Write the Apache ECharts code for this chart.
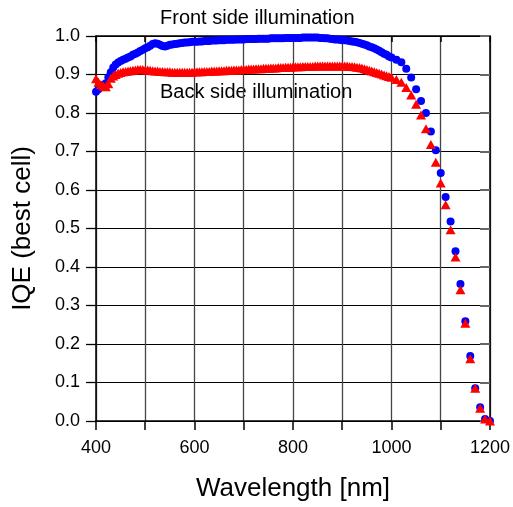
<!DOCTYPE html>
<html>
<head>
<meta charset="utf-8">
<script src="https://cdn.jsdelivr.net/npm/echarts@6/dist/echarts.min.js"></script>
<style>
html,body{margin:0;padding:0;background:#fff;}
#c{width:513px;height:507px;}
</style>
</head>
<body>
<div id="c"></div>
<script>
var wavelengths = [
400,405,410,415,420,425,430,435,440,445,450,455,460,465,470,475,480,485,490,495,
500,505,510,515,520,525,530,535,540,545,550,555,560,565,570,575,580,585,590,595,
600,605,610,615,620,625,630,635,640,645,650,655,660,665,670,675,680,685,690,695,
700,705,710,715,720,725,730,735,740,745,750,755,760,765,770,775,780,785,790,795,
800,805,810,815,820,825,830,835,840,845,850,855,860,865,870,875,880,885,890,895,
900,905,910,915,920,925,930,935,940,945,950,955,960,965,970,975,980,985,990,995,
1000,1010,1020,1030,1040,1050,1060,1070,1080,1090,1100,1110,1120,1130,1140,1150,
1160,1170,1180,1190,1200
];
var frontIQE = [
0.855,0.862,0.870,0.873,0.877,0.893,0.906,0.918,0.926,0.931,0.935,0.938,0.941,0.944,0.947,0.951,0.954,0.957,0.961,0.964,
0.968,0.971,0.975,0.979,0.981,0.980,0.977,0.974,0.973,0.975,0.977,0.978,0.979,0.980,0.981,0.982,0.983,0.983,0.984,0.985,
0.985,0.985,0.986,0.986,0.987,0.987,0.987,0.988,0.988,0.988,0.989,0.989,0.989,0.990,0.990,0.990,0.990,0.991,0.991,0.991,
0.991,0.992,0.992,0.992,0.992,0.992,0.993,0.993,0.993,0.993,0.993,0.994,0.994,0.994,0.994,0.994,0.994,0.995,0.995,0.995,
0.995,0.995,0.995,0.995,0.996,0.996,0.996,0.996,0.996,0.996,0.996,0.995,0.995,0.994,0.994,0.993,0.992,0.991,0.991,0.990,
0.989,0.989,0.988,0.987,0.986,0.985,0.984,0.982,0.980,0.978,0.976,0.973,0.971,0.968,0.965,0.962,0.958,0.954,0.951,0.947,
0.944,0.938,0.932,0.915,0.892,0.862,0.831,0.800,0.752,0.703,0.644,0.582,0.518,0.441,0.356,0.259,
0.169,0.085,0.036,0.005,0.000
];
var backIQE = [
0.889,0.880,0.874,0.870,0.868,0.876,0.890,0.896,0.900,0.903,0.905,0.907,0.908,0.909,0.910,0.911,0.912,0.913,0.913,0.913,
0.912,0.912,0.911,0.910,0.909,0.909,0.908,0.908,0.907,0.907,0.907,0.906,0.906,0.906,0.906,0.906,0.906,0.906,0.906,0.906,
0.907,0.907,0.907,0.907,0.908,0.908,0.908,0.909,0.909,0.909,0.910,0.910,0.910,0.911,0.911,0.911,0.912,0.912,0.912,0.913,
0.913,0.913,0.914,0.914,0.914,0.915,0.915,0.915,0.916,0.916,0.916,0.917,0.917,0.917,0.918,0.918,0.918,0.919,0.919,0.919,
0.920,0.920,0.920,0.920,0.921,0.921,0.921,0.921,0.921,0.922,0.922,0.922,0.922,0.922,0.922,0.922,0.922,0.922,0.922,0.922,
0.922,0.922,0.922,0.921,0.921,0.920,0.919,0.918,0.917,0.915,0.913,0.911,0.909,0.907,0.905,0.903,0.901,0.899,0.897,0.895,
0.893,0.887,0.880,0.866,0.847,0.823,0.795,0.759,0.718,0.672,0.618,0.562,0.497,0.426,0.341,0.254,
0.162,0.085,0.033,0.005,0.000
];
var xTickLabels = ['400','600','800','1000','1200'];
var yTickLabels = ['0.0','0.1','0.2','0.3','0.4','0.5','0.6','0.7','0.8','0.9','1.0'];
var seriesNames = ['Front side illumination','Back side illumination'];
var axisNames = ['Wavelength [nm]','IQE (best cell)'];

function pairs(xs, ys){ return xs.map(function(x,i){ return [x, ys[i]]; }); }

var FONT = '"Liberation Sans", Arial, sans-serif';
var chart = echarts.init(document.getElementById('c'), null, {renderer:'canvas'});
chart.setOption({
  animation:false,
  backgroundColor:'#fff',
  grid: {left:96, right:23, top:36, bottom:81, containLabel:false},
  xAxis: [{
    type:'value', min:400, max:1200, interval:100, position:'bottom',
    name: axisNames[0], nameLocation:'middle', nameGap:55,
    nameTextStyle:{fontFamily:FONT, fontSize:26, color:'#000'},
    axisLine:{show:true, onZero:false, lineStyle:{color:'#000', width:1.5}},
    axisTick:{show:true, inside:false, length:9, lineStyle:{color:'#000', width:1.5}},
    axisLabel:{show:true, margin:18, fontFamily:FONT, fontSize:18, color:'#000',
      formatter:function(v){ var s=String(v); return xTickLabels.indexOf(s)>=0 ? s : ''; }},
    splitLine:{show:true, lineStyle:{color:'#444', width:1.3}}
  },{
    type:'value', min:400, max:1200, interval:100, position:'top',
    axisLine:{show:true, onZero:false, lineStyle:{color:'#000', width:1.5}},
    axisTick:{show:true, inside:true, length:6, lineStyle:{color:'#000', width:1.5}},
    axisLabel:{show:false}, splitLine:{show:false}
  }],
  yAxis: [{
    type:'value', min:0, max:1, interval:0.1, position:'left',
    name: axisNames[1], nameLocation:'middle', nameGap:60,
    nameTextStyle:{fontFamily:FONT, fontSize:26, color:'#000'},
    axisLine:{show:true, onZero:false, lineStyle:{color:'#000', width:1.5}},
    axisTick:{show:true, inside:false, length:10, lineStyle:{color:'#000', width:1.3}},
    axisLabel:{show:true, margin:16, fontFamily:FONT, fontSize:18, color:'#000',
      formatter:function(v){ return yTickLabels[Math.round(v*10)]; }},
    splitLine:{show:true, lineStyle:{color:'#000', width:1}}
  },{
    type:'value', min:0, max:1, interval:0.1, position:'right',
    axisLine:{show:true, onZero:false, lineStyle:{color:'#000', width:1.5}},
    axisTick:{show:true, inside:true, length:10, lineStyle:{color:'#666', width:2}},
    axisLabel:{show:false}, splitLine:{show:false}
  }],
  series: [{
    name: seriesNames[0], type:'scatter', xAxisIndex:0, yAxisIndex:0,
    data: pairs(wavelengths, frontIQE),
    symbol:'circle', symbolSize:8,
    itemStyle:{color:'#0000ff', opacity:1}
  },{
    name: seriesNames[1], type:'scatter', xAxisIndex:0, yAxisIndex:0,
    data: pairs(wavelengths, backIQE),
    symbol:'triangle', symbolSize:[10,9],
    itemStyle:{color:'#ff0000', opacity:1}
  }],
  graphic: [{
    type:'text', left:160, top:8,
    style:{text: seriesNames[0], fontFamily:FONT, fontSize:20, fill:'#000'}
  },{
    type:'text', left:160, top:82,
    style:{text: seriesNames[1], fontFamily:FONT, fontSize:20, fill:'#000'}
  }]
});
</script>
</body>
</html>
